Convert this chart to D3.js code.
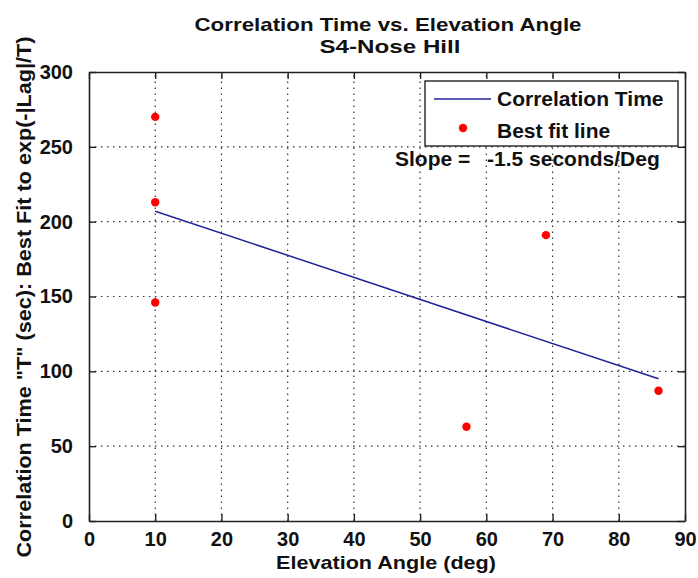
<!DOCTYPE html>
<html lang="en">
<head>
    <meta charset="UTF-8">
    <title>Correlation Time vs. Elevation Angle</title>
    <style>
        body {
            margin: 0;
            background: #fff;
            font-family: "Liberation Sans", Arial, sans-serif;
        }
        svg text {
            font-weight: bold;
            fill: #111;
        }
        .grid line {
            stroke: #333;
            stroke-width: 1.2px;
            stroke-dasharray: 1.5 4.5;
        }
        .tick-label {
            font-size: 20px;
        }
    </style>
</head>
<body>
    <svg width="698" height="578"></svg>
    <script src="https://d3js.org/d3.v7.min.js"></script>
    <script>
        const angles = [10, 10, 10, 57, 69, 86];
        const corrTimes = [270, 213, 146, 63, 191, 87];
        const fitAngles = [10, 86];
        const fitTimes = [207, 95];
        const slope = -1.5;

        const xTicks = [0, 10, 20, 30, 40, 50, 60, 70, 80, 90];
        const yTicks = [0, 50, 100, 150, 200, 250, 300];
        const legendLabels = ["Correlation Time", "Best fit line"];

        const width = 698;
        const height = 578;
        const margin = {top: 72, right: 13, bottom: 57, left: 89};

        const svg = d3.select("svg");

        const x = d3.scaleLinear().domain([0, 90]).range([margin.left, width - margin.right]);
        const y = d3.scaleLinear().domain([0, 300]).range([height - margin.bottom, margin.top]);

        // grid
        const grid = svg.append("g").attr("class", "grid");
        grid.selectAll(".vx")
            .data(xTicks.slice(1, -1))
            .join("line")
            .attr("x1", d => x(d)).attr("x2", d => x(d))
            .attr("y1", y(0)).attr("y2", y(300));
        grid.selectAll(".hy")
            .data(yTicks.slice(1, -1))
            .join("line")
            .attr("class", "hy")
            .attr("x1", x(0)).attr("x2", x(90))
            .attr("y1", d => y(d)).attr("y2", d => y(d));

        // axes (MATLAB style, ticks pointing in, box all round)
        const tickLen = 7;
        svg.append("g")
            .attr("transform", `translate(0,${y(0)})`)
            .call(d3.axisBottom(x).tickValues(xTicks).tickSizeInner(-tickLen).tickSizeOuter(0).tickPadding(11))
            .call(g => g.selectAll("text").attr("class", "tick-label").attr("font-size", null).attr("font-family", null));
        svg.append("g")
            .attr("transform", `translate(0,${y(300)})`)
            .call(d3.axisTop(x).tickValues(xTicks).tickSizeInner(-tickLen).tickSizeOuter(0).tickFormat(""));
        svg.append("g")
            .attr("transform", `translate(${x(0)},0)`)
            .call(d3.axisLeft(y).tickValues(yTicks).tickSizeInner(-tickLen).tickSizeOuter(0).tickPadding(16))
            .call(g => g.selectAll("text").attr("class", "tick-label").attr("font-size", null).attr("font-family", null));
        svg.append("g")
            .attr("transform", `translate(${x(90)},0)`)
            .call(d3.axisRight(y).tickValues(yTicks).tickSizeInner(-tickLen).tickSizeOuter(0).tickFormat(""));

        svg.selectAll(".domain").attr("stroke", "#222").attr("stroke-width", 1.6);
        svg.selectAll(".tick line").attr("stroke", "#222").attr("stroke-width", 1.4);

        // fit line
        const line = d3.line().x(d => x(d[0])).y(d => y(d[1]));
        svg.append("path")
            .datum(d3.zip(fitAngles, fitTimes))
            .attr("d", line)
            .attr("fill", "none")
            .attr("stroke", "#23239c")
            .attr("stroke-width", 1.5);

        // measured points
        svg.selectAll(".pt")
            .data(d3.zip(angles, corrTimes))
            .join("circle")
            .attr("class", "pt")
            .attr("cx", d => x(d[0]))
            .attr("cy", d => y(d[1]))
            .attr("r", 4.2)
            .attr("fill", "#f00");

        // legend
        const lg = svg.append("g").attr("transform", "translate(425,81)");
        lg.append("rect")
            .attr("width", 253).attr("height", 65)
            .attr("fill", "#fff").attr("stroke", "#222").attr("stroke-width", 1.4);
        lg.append("line")
            .attr("x1", 9).attr("x2", 66).attr("y1", 18).attr("y2", 18)
            .attr("stroke", "#23239c").attr("stroke-width", 1.5);
        lg.append("circle").attr("cx", 38).attr("cy", 47).attr("r", 4.2).attr("fill", "#f00");
        lg.selectAll(".lt")
            .data(legendLabels)
            .join("text")
            .attr("x", 72)
            .attr("y", (d, i) => 25 + i * 32)
            .attr("font-size", 21)
            .text(d => d);

        // slope annotation
        svg.append("text").attr("x", 395).attr("y", 166).attr("font-size", 21).text("Slope =");
        svg.append("text").attr("x", 487).attr("y", 166).attr("font-size", 21)
            .text(`${slope.toFixed(1)} seconds/Deg`);

        // titles
        svg.append("text").attr("x", 388).attr("y", 31).attr("text-anchor", "middle")
            .attr("font-size", 19).attr("textLength", 387).attr("lengthAdjust", "spacingAndGlyphs")
            .text("Correlation Time vs. Elevation Angle");
        svg.append("text").attr("x", 390).attr("y", 53).attr("text-anchor", "middle")
            .attr("font-size", 19).attr("textLength", 141).attr("lengthAdjust", "spacingAndGlyphs")
            .text("S4-Nose Hill");
        svg.append("text").attr("x", 386).attr("y", 569).attr("text-anchor", "middle")
            .attr("font-size", 19).attr("textLength", 220).attr("lengthAdjust", "spacingAndGlyphs")
            .text("Elevation Angle (deg)");
        svg.append("text")
            .attr("transform", "translate(31,297) rotate(-90)")
            .attr("text-anchor", "middle")
            .attr("font-size", 21).attr("textLength", 521).attr("lengthAdjust", "spacingAndGlyphs")
            .text("Correlation Time \"T\" (sec): Best Fit to exp(-|Lag|/T)");
    </script>
</body>
</html>
